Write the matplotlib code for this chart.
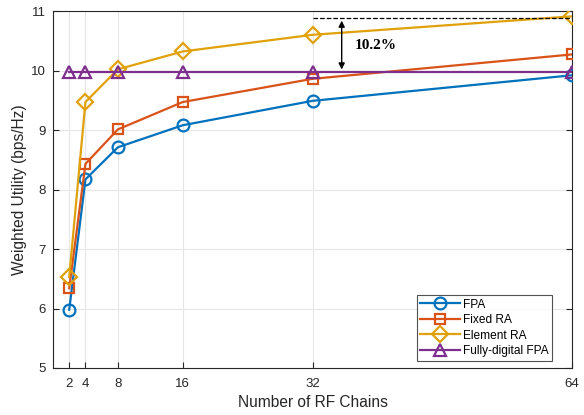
import matplotlib
matplotlib.use("Agg")
import matplotlib.pyplot as plt

rf_chains = [2, 4, 8, 16, 32, 64]
fpa = [5.98, 8.17, 8.71, 9.08, 9.49, 9.92]
fixed_ra = [6.34, 8.43, 9.01, 9.47, 9.86, 10.27]
element_ra = [6.53, 9.47, 10.02, 10.32, 10.60, 10.91]
fully_digital = [9.97, 9.97, 9.97, 9.97, 9.97, 9.97]
labels = ["FPA", "Fixed RA", "Element RA", "Fully-digital FPA"]
colors = ["#0072BD", "#D95319", "#E0A10A", "#7E2F8E"]
markers = ["o", "s", "D", "^"]

plt.rcParams['font.family'] = ['Liberation Sans', 'DejaVu Sans']
fig = plt.figure(figsize=(5.84, 4.15), dpi=100)
ax = fig.add_axes([53/584, 1-368/415, (572-53)/584, (368-11)/415])

series = [fpa, fixed_ra, element_ra, fully_digital]
msizes = [8.5, 7, 8, 9]
for s, lab, c, m, ms in zip(series, labels, colors, markers, msizes):
    ax.plot(rf_chains, s, color=c, marker=m, markersize=ms, markerfacecolor='none',
            markeredgewidth=1.6, linewidth=1.6, label=lab, zorder=3)

ax.set_xlim(0, 64)
ax.set_ylim(5, 11)
ax.set_xticks(rf_chains)
ax.set_yticks([5, 6, 7, 8, 9, 10, 11])
ax.grid(True, color='#e6e6e6', linewidth=0.8)
ax.set_axisbelow(True)
ax.tick_params(direction='in', labelsize=9.5, colors='#262626', length=4, top=False, right=True)
ax.tick_params(axis='x', pad=7)
ax.tick_params(axis='y', pad=5)
for sp in ax.spines.values():
    sp.set_color('#262626')
    sp.set_linewidth(0.8)
ax.set_xlabel("Number of RF Chains", fontsize=11.2, color='#262626', labelpad=4)
ax.set_ylabel("Weighted Utility (bps/Hz)", fontsize=11.2, color='#262626', labelpad=3)

# annotation
ax.plot([32, 64], [10.885, 10.885], 'k--', linewidth=0.9, zorder=4)
ax.annotate('', xy=(35.6, 10.885), xytext=(35.6, 9.97),
            arrowprops=dict(arrowstyle='<|-|>', color='black', lw=1.0, mutation_scale=9))
ax.text(37.2, 10.42, "10.2%", fontsize=11, fontweight='bold',
        family=['Liberation Serif', 'DejaVu Serif'], va='center', ha='left')

leg = ax.legend(loc='lower right', bbox_to_anchor=(0.969, 0.01), fontsize=8.6,
                frameon=True, fancybox=False, edgecolor='#262626', handlelength=3.3,
                borderpad=0.3, labelspacing=0.3, handletextpad=0.3, borderaxespad=0.3)
leg.get_frame().set_linewidth(0.8)

fig.savefig("out.png", dpi=100)
